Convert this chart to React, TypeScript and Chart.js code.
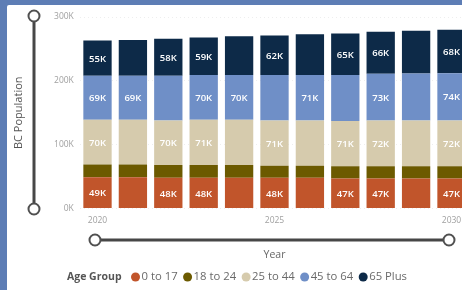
import React, { useEffect, useRef } from 'react';
import { Chart, registerables } from 'chart.js';

Chart.register(...registerables);

// ---- data (values in thousands) ----
const years = ['2020', '2021', '2022', '2023', '2024', '2025', '2026', '2027', '2028', '2029', '2030'];
const ageGroups = ['0 to 17', '18 to 24', '25 to 44', '45 to 64', '65 Plus'];
const age0to17 = [49, 49, 48, 48, 48, 48, 48, 47, 47, 47, 47];
const age18to24 = [20, 20, 20, 20, 20, 19, 19, 19, 19, 19, 19];
const age25to44 = [70, 70, 70, 71, 71, 71, 71, 71, 72, 72, 72];
const age45to64 = [69, 69, 70, 70, 70, 71, 71, 72, 73, 73.5, 74];
const age65plus = [55, 56, 58, 59, 61, 62, 64, 65, 66, 67, 68];
const yTicks = [0, 100, 200, 300];
// which bars show a data label (Power BI hides some)
const labels0to17 = [1, 0, 1, 1, 0, 1, 0, 1, 1, 0, 1];
const labels18to24 = [0, 0, 0, 0, 0, 0, 0, 0, 0, 0, 0];
const labels25to44 = [1, 0, 1, 1, 0, 1, 0, 1, 1, 0, 1];
const labels45to64 = [1, 1, 0, 1, 1, 0, 1, 0, 1, 0, 1];
const labels65plus = [1, 0, 1, 1, 0, 1, 0, 1, 1, 0, 1];

const groupColors = ['#c1552b', '#6c5a00', '#d6cbad', '#6f8fc7', '#0d2a48'];
const FONT = '"Open Sans", "Noto Sans", sans-serif';

const seriesValues = [age0to17, age18to24, age25to44, age45to64, age65plus];
const seriesLabelMask = [labels0to17, labels18to24, labels25to44, labels45to64, labels65plus];

const valueLabels = {
  id: 'valueLabels',
  afterDatasetsDraw(chart: any) {
    const ctx = chart.ctx;
    ctx.save();
    ctx.font = `600 9.5px ${FONT}`;
    ctx.fillStyle = '#ffffff';
    ctx.textAlign = 'center';
    ctx.textBaseline = 'middle';
    chart.data.datasets.forEach((ds: any, di: number) => {
      const meta = chart.getDatasetMeta(di);
      meta.data.forEach((el: any, i: number) => {
        if (!seriesLabelMask[di][i]) return;
        const { x, y, base } = el.getProps(['x', 'y', 'base'], true);
        ctx.fillText(Math.round(ds.data[i]) + 'K', x, (y + base) / 2 + 1);
      });
    });
    ctx.restore();
  },
};

const extras = {
  id: 'extras',
  afterDraw(chart: any) {
    const { ctx, scales } = chart;
    const xs = scales.x;
    const ys = scales.y;
    ctx.save();
    // vertical range slider
    const vx = 27;
    const vTop = ys.getPixelForValue(ys.max) - 1;
    const vBot = ys.getPixelForValue(ys.min) + 0.5;
    ctx.strokeStyle = '#474747';
    ctx.lineWidth = 3;
    ctx.beginPath();
    ctx.moveTo(vx, vTop);
    ctx.lineTo(vx, vBot);
    ctx.stroke();
    // horizontal range slider
    const hy = 235;
    const hx1 = xs.getPixelForTick(0) - 2.5;
    const hx2 = xs.getPixelForTick(years.length - 1) - 2.5;
    ctx.beginPath();
    ctx.moveTo(hx1, hy);
    ctx.lineTo(hx2, hy);
    ctx.stroke();
    const knobs = [[vx, vTop], [vx, vBot], [hx1, hy], [hx2, hy]];
    ctx.lineWidth = 2;
    ctx.fillStyle = '#ffffff';
    ctx.strokeStyle = '#505050';
    knobs.forEach(([kx, ky]) => {
      ctx.beginPath();
      ctx.arc(kx, ky, 5.5, 0, Math.PI * 2);
      ctx.fill();
      ctx.stroke();
    });
    // legend
    const ly = 272;
    let lx = 60;
    ctx.textBaseline = 'middle';
    ctx.textAlign = 'left';
    ctx.font = `bold 10.5px ${FONT}`;
    ctx.fillStyle = '#555555';
    ctx.fillText('Age Group', lx, ly);
    lx += ctx.measureText('Age Group').width + 9.5;
    ctx.font = `11.3px ${FONT}`;
    chart.data.datasets.forEach((ds: any) => {
      ctx.fillStyle = ds.backgroundColor;
      ctx.beginPath();
      ctx.arc(lx + 4.5, ly, 4.5, 0, Math.PI * 2);
      ctx.fill();
      ctx.fillStyle = '#6a6a6a';
      ctx.fillText(ds.label, lx + 10.5, ly);
      lx += 10.5 + ctx.measureText(ds.label).width + 5.5;
    });
    ctx.restore();
  },
};

export default function App() {
  const ref = useRef<HTMLCanvasElement>(null);
  useEffect(() => {
    if (!ref.current) return;
    const chart = new Chart(ref.current, {
      type: 'bar',
      data: {
        labels: years,
        datasets: ageGroups.map((g, i) => ({
          label: g,
          data: seriesValues[i],
          backgroundColor: groupColors[i],
          borderWidth: 0,
          categoryPercentage: 1,
          barPercentage: 0.8,
        })),
      },
      options: {
        animation: false,
        responsive: false,
        maintainAspectRatio: false,
        layout: { padding: { top: 12, right: 1.8, left: 0, bottom: 0 } },
        plugins: { legend: { display: false }, tooltip: { enabled: false } },
        scales: {
          x: {
            stacked: true,
            offset: true,
            grid: { display: false },
            border: { display: false },
            ticks: {
              autoSkip: false,
              maxRotation: 0,
              padding: -1,
              color: '#a0a0a0',
              font: { size: 8.5, family: FONT },
              callback: (_v: any, i: number) => (Number(years[i]) % 5 === 0 ? years[i] : ''),
            },
            title: {
              display: true,
              text: 'Year',
              color: '#666666',
              font: { size: 10.5, family: FONT },
              padding: { top: 0, bottom: 29 },
            },
            afterFit: (s: any) => {
              s.height = 81.5;
            },
          },
          y: {
            stacked: true,
            min: 0,
            max: 300,
            afterBuildTicks: (s: any) => {
              s.ticks = yTicks.map((v) => ({ value: v }));
            },
            grid: { color: '#eeeeee', drawTicks: false },
            border: { display: false, dash: [1, 3] },
            ticks: {
              padding: 6,
              color: '#a0a0a0',
              font: { size: 8.5, family: FONT },
              callback: (v: any) => v + 'K',
            },
            title: {
              display: true,
              text: 'BC Population',
              color: '#555555',
              font: { size: 11, family: FONT },
              padding: { top: 5.4, bottom: 0 },
            },
            afterFit: (s: any) => {
              s.width = 72.8;
            },
          },
        },
      },
      plugins: [valueLabels, extras],
    } as any);
    return () => chart.destroy();
  }, []);

  return (
    <div
      style={{
        position: 'fixed',
        left: 0,
        top: 0,
        width: 462,
        height: 290,
        background: '#5d7db5',
        overflow: 'hidden',
      }}
    >
      <div
        style={{
          position: 'absolute',
          left: 7,
          top: 5,
          width: 480,
          height: 290,
          background: '#ffffff',
          borderTopLeftRadius: 2,
        }}
      >
        <canvas ref={ref} width={464} height={285} style={{ width: 464, height: 285, display: 'block' }} />
      </div>
    </div>
  );
}
